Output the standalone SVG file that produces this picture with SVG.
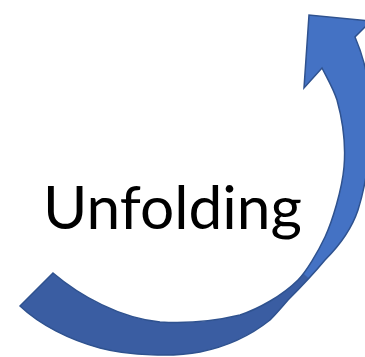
<svg xmlns="http://www.w3.org/2000/svg" width="365" height="357" viewBox="0 0 365 357">
  <defs>
    <linearGradient id="fold" gradientUnits="userSpaceOnUse" x1="300" y1="281" x2="310" y2="269">
      <stop offset="0.45" stop-color="#3A5DA2"/>
      <stop offset="0.55" stop-color="#4472C4"/>
    </linearGradient>
  </defs>
  <style>
    .arrow { fill: url(#fold); stroke: #2F528F; stroke-width: 1.5; stroke-linejoin: miter; }
    .label { font-family: Lato, "Open Sans", sans-serif; font-size: 60px; fill: #000000; }
  </style>
  <g id="connectors">
    <path class="arrow" d="M20,306 L53,273 C80,296 120,318 160,322 C190,324 215,321 240,315 C258,309 282,296 298,280 C306,272 318,252 325,237 C332,222 342,190 344,167 C346,144 342,118 337,100 C333,88 327,78 322,68 L304,88 L309,15 L371,21 L355,37 C365,60 371,90 371,120 C371,150 366,185 358,210 C352,228 340,245 325,260 C315,272 300,288 288,300 C282,307 276,314 270,320 C250,336 225,347 200,352 C175,357 130,356 100,348 C70,340 40,325 20,306 Z"/>
  </g>
  <g id="label-unfolding">
    <text class="label" x="43" y="229" textLength="259" lengthAdjust="spacingAndGlyphs">Unfolding</text>
  </g>
</svg>
